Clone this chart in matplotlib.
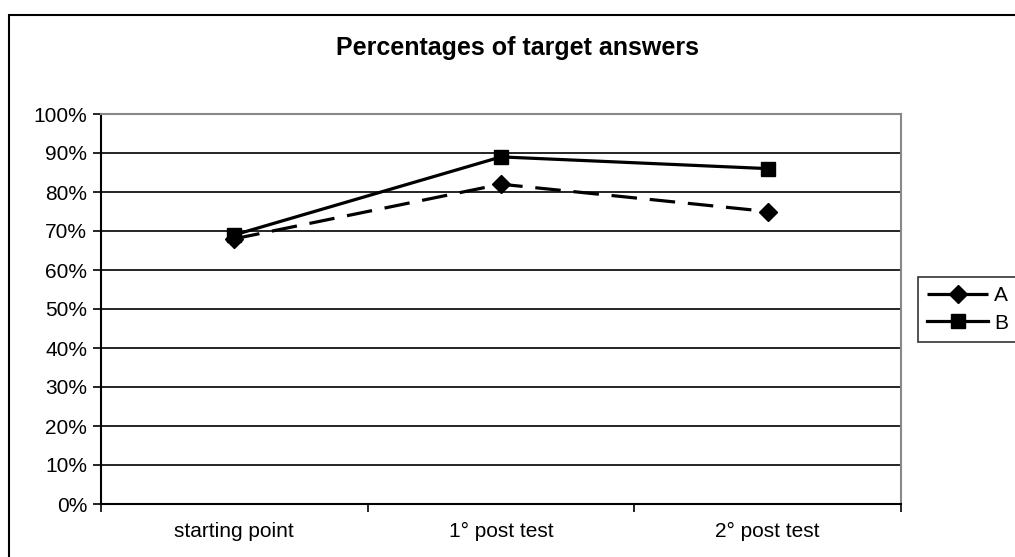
import matplotlib
matplotlib.use("Agg")
import matplotlib.pyplot as plt
from matplotlib.patches import Rectangle

categories = ["starting point", "1° post test", "2° post test"]
series_a = [68, 82, 75]
series_b = [69, 89, 86]
yticks = [0, 10, 20, 30, 40, 50, 60, 70, 80, 90, 100]
ytick_labels = [f"{v}%" for v in yticks]

plt.rcParams['font.family'] = ['Liberation Sans', 'DejaVu Sans']

W, H = 1015, 557
fig = plt.figure(figsize=(W / 100, H / 100), dpi=100)
ax = fig.add_axes([101 / W, (H - 504) / H, 800 / W, 390 / H])

# outer chart border
fig.patches.append(Rectangle((9 / W, -0.1), 1.2, 1 - 15 / H + 0.1, transform=fig.transFigure,
                             fill=False, edgecolor='black', linewidth=1.5, clip_on=False))

x = list(range(len(categories)))
ax.plot(x, series_a, color='black', linewidth=2.3, linestyle=(0, (8, 4)),
        marker='D', markersize=9, label='A')
ax.plot(x, series_b, color='black', linewidth=2.3, linestyle='-',
        marker='s', markersize=10.5, label='B')

ax.set_xlim(-0.5, len(categories) - 0.5)
ax.set_ylim(0, 100)
ax.set_yticks(yticks)
ax.set_yticklabels(ytick_labels, fontsize=15)
ax.set_xticks([i - 0.5 for i in range(len(categories) + 1)])
ax.set_xticklabels([])
ax.set_xticks(x, minor=True)
ax.set_xticklabels(categories, minor=True, fontsize=15)
ax.tick_params(axis='x', which='minor', length=0, pad=13)
ax.tick_params(axis='x', which='major', direction='out', length=6, width=1.2, color='black')
ax.tick_params(axis='y', direction='out', length=6, width=1.2, color='black', pad=4)
for yv in yticks[1:-1]:
    ax.axhline(yv, color='black', linewidth=1.2, zorder=0)

for side in ['top', 'right']:
    ax.spines[side].set_color('#888888')
    ax.spines[side].set_linewidth(1.5)
for side in ['left', 'bottom']:
    ax.spines[side].set_color('black')
    ax.spines[side].set_linewidth(1.5)

fig.text(517 / W, 1 - 48 / H, "Percentages of target answers", ha='center', va='center',
         fontsize=18, fontweight='bold')

leg = fig.legend(loc='upper left', bbox_to_anchor=(918 / W, 1 - 277 / H), fontsize=15,
                 frameon=True, fancybox=False, edgecolor='black', handlelength=2.9,
                 borderpad=0.45, borderaxespad=0, labelspacing=0.4, handletextpad=0.3)
leg.get_frame().set_linewidth(1.2)

fig.savefig("out.png", dpi=100)
